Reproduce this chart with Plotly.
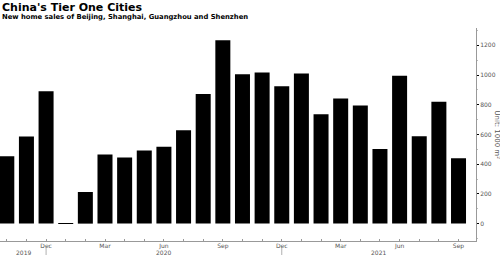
import plotly.graph_objects as go

months = ["Oct 2019", "Nov 2019", "Dec 2019",
          "Jan 2020", "Feb 2020", "Mar 2020", "Apr 2020", "May 2020", "Jun 2020",
          "Jul 2020", "Aug 2020", "Sep 2020", "Oct 2020", "Nov 2020", "Dec 2020",
          "Jan 2021", "Feb 2021", "Mar 2021", "Apr 2021", "May 2021", "Jun 2021",
          "Jul 2021", "Aug 2021", "Sep 2021"]
sales = [454, 587, 892, 4, 213, 465, 445, 492, 517, 629, 872, 1234,
         1005, 1018, 924, 1011, 737, 843, 796, 503, 995, 589, 820, 440]
month_labels = ["", "", "Dec", "", "", "Mar", "", "", "Jun", "", "", "Sep",
                "", "", "Dec", "", "", "Mar", "", "", "Jun", "", "", "Sep"]
years = ["2019", "2020", "2021"]
y_ticks = [0, 200, 400, 600, 800, 1000, 1200]

idx = list(range(len(months)))
PH = 213.0  # plot height in px

fig = go.Figure()
fig.add_trace(go.Bar(x=idx, y=sales, marker=dict(color="#000000", line=dict(width=0)),
                     hovertext=months, hoverinfo="text+y"))

dec_pos = [i for i, m in enumerate(month_labels) if m == "Dec"]
x0, x1 = -0.346, 23.89
bounds = [x0] + dec_pos + [x1]
for d in dec_pos:
    fig.add_shape(type="line", xref="x", yref="paper", x0=d, x1=d, y0=-7 / PH, y1=-15 / PH,
                  line=dict(color="#b0b0b0", width=1))
annotations = []
for k, yr in enumerate(years):
    c = (bounds[k] + bounds[k + 1]) / 2
    annotations.append(dict(x=c, y=-11.5 / PH, xref="x", yref="paper", text=yr, showarrow=False,
                            yanchor="middle", font=dict(family="DejaVu Sans", size=6, color="#555555")))
annotations.append(dict(x=1.0, y=0.5, xref="paper", yref="paper", xanchor="left", xshift=15,
                        text="Unit: 1000 m²", showarrow=False, textangle=90,
                        font=dict(family="DejaVu Sans", size=7, color="#555555")))
annotations.append(dict(x=0, y=(241 - 7.5) / PH, xref="paper", yref="paper",
                        xanchor="left", yanchor="middle", showarrow=False,
                        text="<b>China's Tier One Cities</b>",
                        font=dict(family="DejaVu Sans", size=11, color="#000000")))
annotations.append(dict(x=0, y=(241 - 16.5) / PH, xref="paper", yref="paper",
                        xanchor="left", yanchor="middle", showarrow=False,
                        text="<b>New home sales of Beijing, Shanghai, Guangzhou and Shenzhen</b>",
                        font=dict(family="DejaVu Sans", size=6.8, color="#000000")))

fig.update_layout(
    width=500, height=255,
    margin=dict(l=0, r=24, t=28, b=14),
    paper_bgcolor="white", plot_bgcolor="white",
    bargap=0.236, showlegend=False,
    xaxis=dict(range=[x0, x1], tickmode="array", tickvals=idx, ticktext=month_labels,
               showline=True, linecolor="#999999", linewidth=1, ticks="inside", ticklen=2,
               tickcolor="#999999", showgrid=False, zeroline=False, ticklabelstandoff=-1,
               tickfont=dict(family="DejaVu Sans", size=6, color="#555555")),
    yaxis=dict(range=[-117, 1317], side="right", tickmode="array", tickvals=y_ticks,
               showline=True, linecolor="#999999", linewidth=1, ticks="outside", ticklen=2,
               tickcolor="#000000", showgrid=False, zeroline=False,
               minor=dict(dtick=100, ticks="outside", ticklen=1, tickcolor="#bbbbbb"),
               tickfont=dict(family="DejaVu Sans", size=6, color="#555555")),
    annotations=annotations,
)
fig.write_html("out.html")
